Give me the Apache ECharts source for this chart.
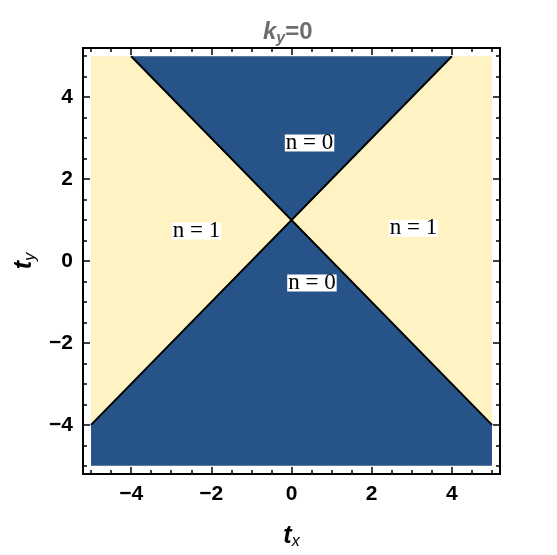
<!DOCTYPE html>
<html>
<head>
<meta charset="UTF-8">
<title>ky=0</title>
<script src="https://cdn.jsdelivr.net/npm/echarts@6/dist/echarts.min.js"></script>
<style>
  html, body { margin: 0; padding: 0; background: #fff; }
</style>
</head>
<body>
<div id="main" style="width:557px;height:555px;"></div>
<script type="text/javascript">
  // region corners (t_x, t_y)
  var yellowRegion = [[-5, -5], [5, -5], [5, 5], [-5, 5]];
  var blueTop = [[-4, 5], [4, 5], [0, 1]];
  var blueBottom = [[-5, -5], [5, -5], [5, -4], [0, 1], [-5, -4]];
  // boundary lines
  var boundaryA = [[-4, 5], [5, -4]];
  var boundaryB = [[-5, -4], [4, 5]];
  // region labels
  var regionLabels = [
    { name: 'n=0', value: [0.45, 2.88] },
    { name: 'n=0', value: [0.51, -0.54] },
    { name: 'n=1', value: [-2.37, 0.73] },
    { name: 'n=1', value: [3.04, 0.8] }
  ];
  var majorTicks = [-4, -2, 0, 2, 4];
  var minorTicks = [-5, -4.5, -4, -3.5, -3, -2.5, -2, -1.5, -1, -0.5, 0, 0.5, 1, 1.5, 2, 2.5, 3, 3.5, 4, 4.5, 5];

  var myChart = echarts.init(document.getElementById('main'));

  function fmt(v) {
    return v < 0 ? '\u2212' + (-v) : String(v);
  }

  function polySeries(points, color) {
    return {
      type: 'custom',
      xAxisIndex: 0,
      yAxisIndex: 0,
      silent: true,
      clip: true,
      data: points,
      renderItem: function (params, api) {
        if (params.dataIndex !== 0) return null;
        return {
          type: 'polygon',
          shape: { points: points.map(function (p) { return api.coord(p); }) },
          style: { fill: color }
        };
      }
    };
  }

  function lineSeries(points) {
    return {
      type: 'line',
      xAxisIndex: 0,
      yAxisIndex: 0,
      silent: true,
      symbol: 'none',
      data: points,
      lineStyle: { color: '#000', width: 2 }
    };
  }

  var tickFont = { fontFamily: 'Liberation Sans', fontWeight: 'bold', fontSize: 21, color: '#000' };

  function makeAxis(pos, major, withLabel) {
    var ax = {
      type: 'value',
      position: pos,
      min: -5.2,
      max: 5.2,
      splitLine: { show: false },
      axisLine: { show: true, onZero: false, lineStyle: { color: '#000', width: 2 } },
      axisTick: {
        show: true,
        inside: true,
        customValues: major ? majorTicks : minorTicks,
        length: major ? 7 : 4,
        lineStyle: { color: '#000', width: 1.5 }
      },
      axisLabel: { show: false }
    };
    if (withLabel) {
      ax.axisLabel = Object.assign({
        show: true,
        customValues: majorTicks,
        formatter: fmt,
        margin: 10
      }, tickFont);
    }
    return ax;
  }

  var xAxes = [
    makeAxis('bottom', true, true),
    makeAxis('bottom', false, false),
    makeAxis('top', true, false),
    makeAxis('top', false, false)
  ];
  xAxes[0].name = '{t|t}{s|x}';
  xAxes[0].nameLocation = 'middle';
  xAxes[0].nameGap = 48;
  xAxes[0].nameTextStyle = {
    rich: {
      t: { fontFamily: 'Liberation Sans', fontStyle: 'italic', fontWeight: 'bold', fontSize: 25, color: '#000' },
      s: { fontFamily: 'Liberation Sans', fontStyle: 'italic', fontSize: 16, color: '#000', verticalAlign: 'bottom', padding: [12, 0, 0, 0] }
    }
  };

  var yAxes = [
    makeAxis('left', true, true),
    makeAxis('left', false, false),
    makeAxis('right', true, false),
    makeAxis('right', false, false)
  ];
  yAxes[0].name = '{t|t}{s|y}';
  yAxes[0].nameLocation = 'middle';
  yAxes[0].nameGap = 44;
  yAxes[0].nameRotate = 90;
  yAxes[0].nameTextStyle = xAxes[0].nameTextStyle;

  var option = {
    animation: false,
    backgroundColor: '#fff',
    title: {
      text: '{k|k}{s|y}{e|=0}',
      left: 258,
      top: 12,
      textStyle: {
        rich: {
          k: { fontFamily: 'Liberation Sans', fontStyle: 'italic', fontWeight: 'bold', fontSize: 24, color: '#6e6e6e' },
          s: { fontFamily: 'Liberation Sans', fontStyle: 'italic', fontWeight: 'bold', fontSize: 16, color: '#6e6e6e', padding: [14, 0, 0, 0] },
          e: { fontFamily: 'Liberation Sans', fontWeight: 'bold', fontSize: 24, color: '#6e6e6e' }
        }
      }
    },
    grid: { left: 83, right: 57, top: 48, bottom: 75 },
    xAxis: xAxes,
    yAxis: yAxes,
    series: [
      polySeries(yellowRegion, '#FFF3C4'),
      polySeries(blueTop, '#265388'),
      polySeries(blueBottom, '#265388'),
      lineSeries(boundaryA),
      lineSeries(boundaryB),
      {
        type: 'scatter',
        xAxisIndex: 0,
        yAxisIndex: 0,
        silent: true,
        symbolSize: 0,
        itemStyle: { opacity: 1 },
        data: regionLabels,
        label: {
          show: true,
          position: 'inside',
          formatter: function (p) { return p.name.replace('=', ' = '); },
          fontFamily: 'Liberation Serif',
          fontSize: 23,
          color: '#000',
          opacity: 1,
          backgroundColor: '#fff',
          padding: [0, 1, -2, 1],
          lineHeight: 19
        }
      }
    ]
  };

  myChart.setOption(option);
</script>
</body>
</html>
